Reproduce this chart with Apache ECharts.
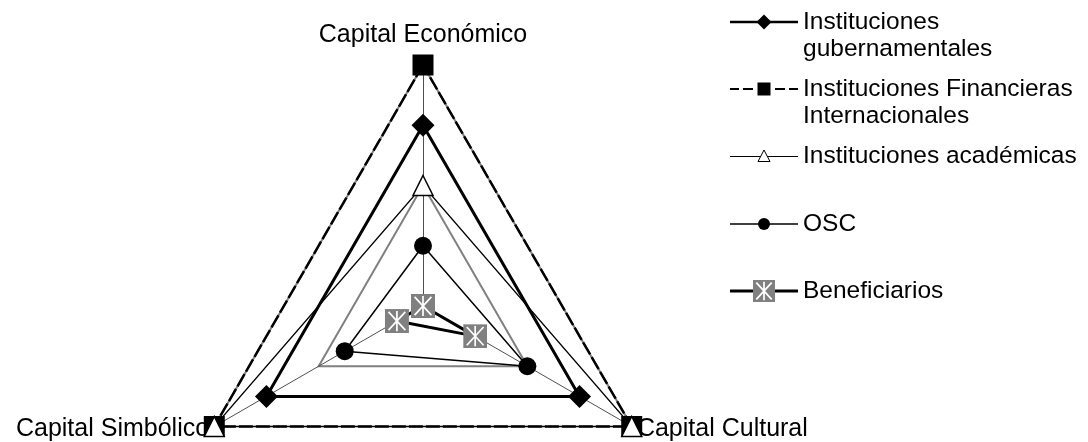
<!DOCTYPE html>
<html>
<head>
<meta charset="utf-8">
<script src="https://cdn.jsdelivr.net/npm/echarts@6/dist/echarts.min.js"></script>
<style>
    html, body { margin: 0; padding: 0; background: #fff; }
    #radarChart { width: 1088px; height: 442px; }
</style>
</head>
<body>
<div id="radarChart"></div>
<script>
// indicadores (orden antihorario desde arriba)
var indicators = ['Capital Económico', 'Capital Simbólico', 'Capital Cultural'];
var maxValue = 4;

var gubernamentales = [3, 3, 3];
var financieras = [4, 4, 4];
var academicas = [2, 4, 4];
var osc = [1, 1.5, 2];
var beneficiarios = [0, 0.5, 1];

var names = [
    'Instituciones gubernamentales',
    'Instituciones Financieras Internacionales',
    'Instituciones académicas',
    'OSC',
    'Beneficiarios'
];
// primera linea vacia: asi el icono queda alineado con la primera linea del texto
var legendLabels = [
    '\nInstituciones\ngubernamentales',
    '\nInstituciones Financieras\nInternacionales',
    'Instituciones académicas',
    'OSC',
    'Beneficiarios'
];

var FONT = '"Liberation Sans", Arial, sans-serif';

var svgUrl = function (w, h, body) {
    var svg = "<svg xmlns='http://www.w3.org/2000/svg' width='" + w + "' height='" + h +
        "' viewBox='0 0 " + w + " " + h + "'>" + body + "</svg>";
    return 'image://data:image/svg+xml;charset=utf-8,' + encodeURIComponent(svg);
};

// marcador gris con asterisco blanco
var benefBody = function (x, y, s) {
    var p = function (a, b) { return (x + a * s) + ' ' + (y + b * s); };
    return "<rect x='" + x + "' y='" + y + "' width='" + s + "' height='" + s + "' fill='#808080'/>" +
        "<path d='M" + p(0.5, 0.08) + " L" + p(0.5, 0.92) + " M" + p(0.15, 0.12) + " L" + p(0.85, 0.88) +
        " M" + p(0.85, 0.12) + " L" + p(0.15, 0.88) + "' stroke='#fff' stroke-width='1.7' fill='none'/>";
};
var benefSymbol = svgUrl(24, 24, benefBody(0, 0, 24));

var legendIcons = [
    svgUrl(68, 24, "<path d='M0 12H68' stroke='#000' stroke-width='2.5'/>" +
        "<path d='M34 4.5L41.5 12L34 19.5L26.5 12Z' fill='#000'/>"),
    svgUrl(68, 24, "<path d='M0 12H9M13 12H23M45 12H55M59 12H68' stroke='#000' stroke-width='2'/>" +
        "<rect x='27.5' y='5.5' width='13' height='13' fill='#000'/>"),
    svgUrl(68, 24, "<path d='M0 12.5H68' stroke='#000' stroke-width='1'/>" +
        "<path d='M34 6L40 17.5L28 17.5Z' fill='#fff' stroke='#000' stroke-width='1'/>"),
    svgUrl(68, 24, "<path d='M0 12H68' stroke='#000' stroke-width='1.5'/>" +
        "<circle cx='34' cy='12' r='6' fill='#000'/>"),
    svgUrl(68, 24, "<path d='M0 12H68' stroke='#000' stroke-width='3'/>" + benefBody(23, 1, 22))
];
var legendCenters = [22, 89, 156, 224, 291];

var init_radarChart = function () {
    var myChart = echarts.init(document.getElementById('radarChart'));

    var legends = names.map(function (n, i) {
        var threeLines = legendLabels[i].indexOf('\n') > -1;
        return {
            left: 730,
            top: legendCenters[i] - (threeLines ? 40.5 : 13.5),
            padding: 0,
            orient: 'vertical',
            itemWidth: 68,
            itemHeight: 24,
            selectedMode: false,
            data: [{ name: n, icon: legendIcons[i] }],
            formatter: function () { return legendLabels[i]; },
            textStyle: {
                color: '#000',
                fontFamily: FONT,
                fontSize: 24.5,
                lineHeight: 27
            }
        };
    });

    var option = {
        animation: false,
        backgroundColor: '#fff',
        legend: legends,
        radar: {
            center: [423, 306],
            radius: 241,
            startAngle: 90,
            shape: 'polygon',
            splitNumber: 2,
            nameGap: 6,
            indicator: indicators.map(function (n) {
                return { name: n, min: 0, max: maxValue };
            }),
            axisName: {
                color: '#000',
                fontFamily: FONT,
                fontSize: 25,
                formatter: function (name) {
                    return name === 'Capital Económico' ? '{t|' + name + '}' : name;
                },
                rich: {
                    t: { fontFamily: FONT, fontSize: 25, color: '#000', padding: [0, 0, 11, 0] }
                }
            },
            axisLine: { lineStyle: { color: '#505050', width: 1 } },
            splitLine: { lineStyle: { color: '#808080', width: 2 } },
            splitArea: { show: false },
            axisTick: { show: false },
            axisLabel: { show: false }
        },
        series: [{
            name: names[0],
            type: 'radar',
            symbol: 'diamond',
            symbolSize: 23,
            itemStyle: { color: '#000' },
            lineStyle: { color: '#000', width: 3 },
            data: [{ name: names[0], value: gubernamentales }]
        }, {
            name: names[1],
            type: 'radar',
            symbol: 'rect',
            symbolSize: 21,
            itemStyle: { color: '#000' },
            lineStyle: { color: '#000', width: 2.5, type: [14, 3] },
            data: [{ name: names[1], value: financieras }]
        }, {
            name: names[2],
            type: 'radar',
            symbol: 'triangle',
            symbolSize: 20,
            itemStyle: { color: '#fff', borderColor: '#000', borderWidth: 1.5 },
            lineStyle: { color: '#000', width: 1.2 },
            data: [{ name: names[2], value: academicas }]
        }, {
            name: names[3],
            type: 'radar',
            symbol: 'circle',
            symbolSize: 18,
            itemStyle: { color: '#000' },
            lineStyle: { color: '#000', width: 1.5 },
            data: [{ name: names[3], value: osc }]
        }, {
            name: names[4],
            type: 'radar',
            symbol: benefSymbol,
            symbolSize: 24,
            itemStyle: { color: '#808080' },
            lineStyle: { color: '#000', width: 3 },
            data: [{ name: names[4], value: beneficiarios }]
        }]
    };

    myChart.setOption(option);
};

init_radarChart();
</script>
</body>
</html>
